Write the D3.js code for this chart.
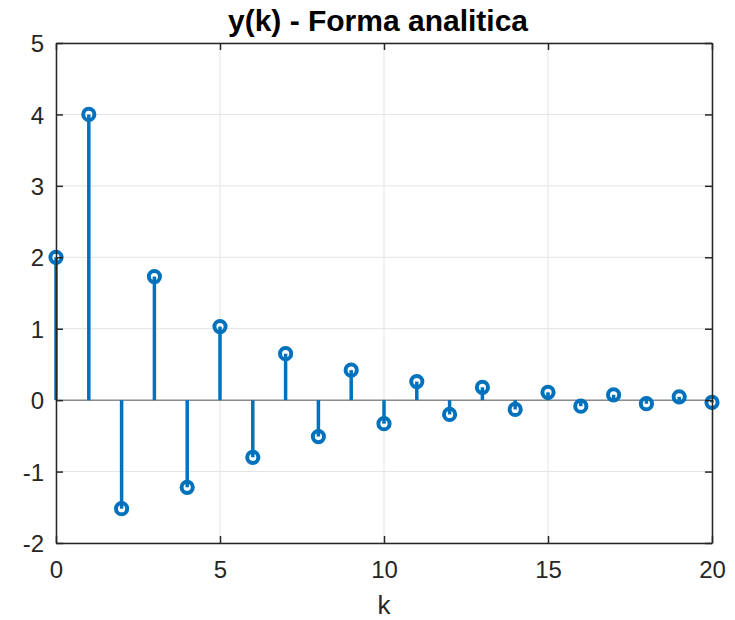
<!DOCTYPE html>
<html>
<head>
<meta charset="utf-8">
<script src="https://cdn.jsdelivr.net/npm/d3@7"></script>
<style>
  body { margin: 0; background: #fff; }
  text { font-family: Arial, "Liberation Sans", Helvetica, sans-serif; }
</style>
</head>
<body>
<svg id="chart" width="735" height="620"></svg>
<script>
// stem data
const kValues = d3.range(0, 21);
const yValues = [2, 4, -1.52, 1.73, -1.22, 1.03, -0.8, 0.65, -0.51, 0.42,
  -0.33, 0.26, -0.2, 0.18, -0.13, 0.11, -0.085, 0.075, -0.05, 0.047, -0.03];
const xTicks = [0, 5, 10, 15, 20];
const yTicks = [-2, -1, 0, 1, 2, 3, 4, 5];

const svg = d3.select('#chart');
const mLeft = 56, mRight = 712, mTop = 43, mBottom = 543;
const blue = '#0072BD';
const ink = '#262626';

const x = d3.scaleLinear().domain([0, 20]).range([mLeft, mRight]);
const y = d3.scaleLinear().domain([-2, 5]).range([mBottom, mTop]);

// grid
svg.append('g').selectAll('line').data(xTicks).join('line')
  .attr('x1', d => x(d)).attr('x2', d => x(d))
  .attr('y1', mTop).attr('y2', mBottom)
  .attr('stroke', '#e3e3e3').attr('stroke-width', 1);
svg.append('g').selectAll('line').data(yTicks).join('line')
  .attr('x1', mLeft).attr('x2', mRight)
  .attr('y1', d => y(d)).attr('y2', d => y(d))
  .attr('stroke', '#e3e3e3').attr('stroke-width', 1);

// baseline
svg.append('line')
  .attr('x1', x(0)).attr('x2', x(20))
  .attr('y1', y(0)).attr('y2', y(0))
  .attr('stroke', '#8c8c8c').attr('stroke-width', 1.5);

// stems
svg.append('g').selectAll('line').data(kValues).join('line')
  .attr('x1', d => x(d)).attr('x2', d => x(d))
  .attr('y1', y(0)).attr('y2', (d, i) => y(yValues[i]))
  .attr('stroke', blue).attr('stroke-width', 3.5);

svg.append('g').selectAll('circle').data(kValues).join('circle')
  .attr('cx', d => x(d)).attr('cy', (d, i) => y(yValues[i]))
  .attr('r', 5.6)
  .attr('fill', 'none')
  .attr('stroke', blue).attr('stroke-width', 4);

// axes box with inward ticks
const fmt = d => String(d);
const xb = svg.append('g').attr('transform', `translate(0,${mBottom})`)
  .call(d3.axisBottom(x).tickValues(xTicks).tickFormat(fmt).tickSizeInner(-7).tickSizeOuter(0).tickPadding(18));
const xt = svg.append('g').attr('transform', `translate(0,${mTop})`)
  .call(d3.axisTop(x).tickValues(xTicks).tickSizeInner(-7).tickSizeOuter(0).tickFormat(''));
const yl = svg.append('g').attr('transform', `translate(${mLeft},0)`)
  .call(d3.axisLeft(y).tickValues(yTicks).tickFormat(fmt).tickSizeInner(-7).tickSizeOuter(0).tickPadding(12));
const yr = svg.append('g').attr('transform', `translate(${mRight},0)`)
  .call(d3.axisRight(y).tickValues(yTicks).tickSizeInner(-7).tickSizeOuter(0).tickFormat(''));

[xb, xt, yl, yr].forEach(g => {
  g.select('.domain').attr('stroke', ink).attr('stroke-width', 1.5);
  g.selectAll('.tick line').attr('stroke', ink).attr('stroke-width', 1.5);
  g.selectAll('.tick text').attr('font-size', 24).attr('fill', ink)
    .attr('font-family', 'Arial, "Liberation Sans", sans-serif');
});
yl.selectAll('.tick text').attr('dy', '0.36em');

// title and label
svg.append('text')
  .attr('x', (mLeft + mRight) / 2 - 6).attr('y', 31)
  .attr('text-anchor', 'middle')
  .attr('font-size', 30).attr('font-weight', 'bold').attr('fill', '#000')
  .text('y(k) - Forma analitica');

svg.append('text')
  .attr('x', (mLeft + mRight) / 2).attr('y', 614)
  .attr('text-anchor', 'middle')
  .attr('font-size', 26).attr('fill', ink)
  .text('k');
</script>
</body>
</html>
